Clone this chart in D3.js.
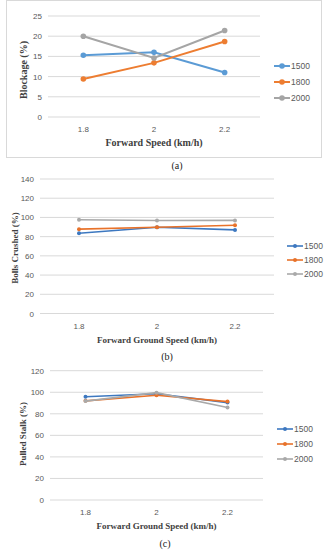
<!DOCTYPE html>
<html>
<head>
<meta charset="utf-8">
<script src="https://cdn.jsdelivr.net/npm/d3@7/dist/d3.min.js"></script>
<style>
  body { margin: 0; background: #fff; }
  svg { display: block; }
</style>
</head>
<body>
<script>
// shared categories
const speeds = ["1.8", "2", "2.2"];
const seriesNames = ["1500", "1800", "2000"];

// (a) blockage
const blockage1500 = [15.3, 16.0, 11.0];
const blockage1800 = [9.4, 13.4, 18.7];
const blockage2000 = [20.0, 14.6, 21.4];
const blockageTicks = [0, 5, 10, 15, 20, 25];

// (b) bolls crushed
const crushed1500 = [83.5, 89.7, 87.0];
const crushed1800 = [87.8, 89.8, 91.8];
const crushed2000 = [97.6, 96.8, 96.9];
const crushedTicks = [0, 20, 40, 60, 80, 100, 120, 140];

// (c) pulled stalk
const pulled1500 = [95.8, 98.6, 90.4];
const pulled1800 = [92.0, 97.2, 91.3];
const pulled2000 = [91.8, 99.6, 85.8];
const pulledTicks = [0, 20, 40, 60, 80, 100, 120];

const W = 327, H = 550;
const svg = d3.select("body").append("svg")
    .attr("width", W)
    .attr("height", H);

// border around first chart
svg.append("rect")
    .attr("x", 6.5).attr("y", 0.5)
    .attr("width", 315).attr("height", 157)
    .attr("fill", "none")
    .attr("stroke", "#d9d9d9");

function drawPanel(p) {
    const g = svg.append("g");
    const x = d3.scalePoint().domain(speeds).range([p.x0, p.x1]).padding(0.5);
    const y = d3.scaleLinear().domain([0, d3.max(p.ticks)]).range([p.y0, p.y1]);

    // gridlines
    g.selectAll(".grid").data(p.ticks).enter().append("line")
        .attr("x1", p.x0).attr("x2", p.x1)
        .attr("y1", d => y(d)).attr("y2", d => y(d))
        .attr("stroke", "#d9d9d9").attr("stroke-width", 1);

    // y tick labels
    g.selectAll(".yl").data(p.ticks).enter().append("text")
        .attr("x", p.x0 - 6).attr("y", d => y(d) + 3)
        .attr("text-anchor", "end")
        .attr("font-family", "Liberation Sans, Arial, sans-serif")
        .attr("font-size", 8).attr("fill", "#595959")
        .text(d => d);

    // x tick labels
    g.selectAll(".xl").data(speeds).enter().append("text")
        .attr("x", d => x(d)).attr("y", p.y0 + 15)
        .attr("text-anchor", "middle")
        .attr("font-family", "Liberation Sans, Arial, sans-serif")
        .attr("font-size", 8).attr("fill", "#595959")
        .text(d => d);

    // axis titles
    g.append("text")
        .attr("x", (p.x0 + p.x1) / 2).attr("y", p.y0 + 29)
        .attr("text-anchor", "middle")
        .attr("font-family", "Liberation Serif, Times New Roman, serif")
        .attr("font-weight", "bold").attr("font-size", p.titleSize)
        .attr("fill", "#404040")
        .text(p.xTitle);
    g.append("text")
        .attr("transform", "translate(" + p.yTitleX + "," + p.yTitleY + ") rotate(-90)")
        .attr("text-anchor", "middle")
        .attr("font-family", "Liberation Serif, Times New Roman, serif")
        .attr("font-weight", "bold").attr("font-size", p.titleSize)
        .attr("fill", "#404040")
        .text(p.yTitle);

    // lines
    const line = d3.line().x((d, i) => x(speeds[i])).y(d => y(d));
    p.series.forEach((s, k) => {
        g.append("path").datum(s)
            .attr("d", line)
            .attr("fill", "none")
            .attr("stroke", p.colors[k])
            .attr("stroke-width", p.lw);
        g.selectAll(".pt" + k).data(s).enter().append("circle")
            .attr("cx", (d, i) => x(speeds[i]))
            .attr("cy", d => y(d))
            .attr("r", p.r)
            .attr("fill", p.colors[k]);
    });

    // legend
    seriesNames.forEach((n, k) => {
        const ly = p.legY + k * p.legGap;
        g.append("line")
            .attr("x1", p.legX).attr("x2", p.legX + 16)
            .attr("y1", ly).attr("y2", ly)
            .attr("stroke", p.colors[k]).attr("stroke-width", p.lw);
        g.append("circle")
            .attr("cx", p.legX + 8).attr("cy", ly).attr("r", p.r)
            .attr("fill", p.colors[k]);
        g.append("text")
            .attr("x", p.legX + 17).attr("y", ly + 3)
            .attr("font-family", "Liberation Sans, Arial, sans-serif")
            .attr("font-size", 8.5).attr("fill", "#595959")
            .text(n);
    });

    // caption
    g.append("text")
        .attr("x", p.capX).attr("y", p.capY)
        .attr("text-anchor", "middle")
        .attr("font-family", "Liberation Serif, Times New Roman, serif")
        .attr("font-size", 10).attr("fill", "#222")
        .text(p.caption);
}

drawPanel({
    series: [blockage1500, blockage1800, blockage2000],
    ticks: blockageTicks,
    colors: ["#5b9bd5", "#ed7d31", "#a5a5a5"],
    x0: 48, x1: 260, y0: 117, y1: 16,
    lw: 2, r: 2.8, titleSize: 10,
    xTitle: "Forward Speed (km/h)", yTitle: "Blockage (%)",
    yTitleX: 27, yTitleY: 70,
    legX: 274, legY: 66, legGap: 16,
    caption: "(a)", capX: 177, capY: 169
});

drawPanel({
    series: [crushed1500, crushed1800, crushed2000],
    ticks: crushedTicks,
    colors: ["#3d78c0", "#e8722a", "#a9a9a9"],
    x0: 40, x1: 274, y0: 313.5, y1: 179,
    lw: 1.6, r: 2, titleSize: 9,
    xTitle: "Forward Ground Speed (km/h)", yTitle: "Bolls Crushed (%)",
    yTitleX: 18, yTitleY: 248,
    legX: 287, legY: 246, legGap: 14,
    caption: "(b)", capX: 167, capY: 360
});

drawPanel({
    series: [pulled1500, pulled1800, pulled2000],
    ticks: pulledTicks,
    colors: ["#3d78c0", "#e8722a", "#a9a9a9"],
    x0: 50, x1: 263, y0: 500, y1: 370.7,
    lw: 1.6, r: 2, titleSize: 9,
    xTitle: "Forward Ground Speed (km/h)", yTitle: "Pulled Stalk (%)",
    yTitleX: 26, yTitleY: 434,
    legX: 277, legY: 429, legGap: 15,
    caption: "(c)", capX: 165, capY: 547
});
</script>
</body>
</html>
